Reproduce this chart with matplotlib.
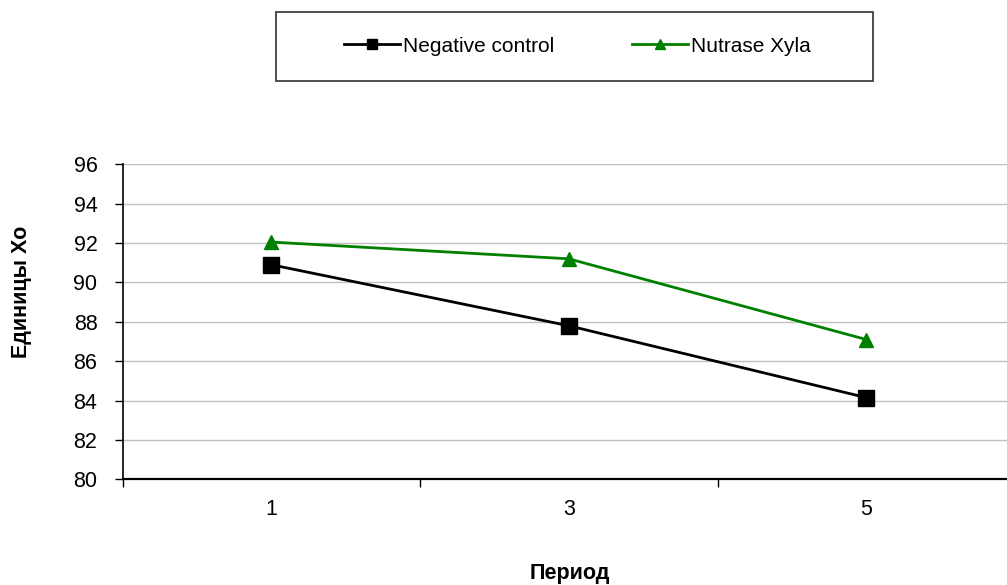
import numpy as np
import matplotlib
matplotlib.use('Agg')
import matplotlib.pyplot as plt
from matplotlib.patches import Rectangle

# Daten
perioden = ['1', '3', '5']
negative_control = [90.9, 87.8, 84.15]
nutrase_xyla = [92.05, 91.2, 87.1]
y_ticks = [80, 82, 84, 86, 88, 90, 92, 94, 96]

plt.rcParams['font.family'] = ['Liberation Sans', 'DejaVu Sans']

W, H = 1007, 585
fig = plt.figure(figsize=(W / 100., H / 100.), dpi=100)
fig.patch.set_facecolor('white')

# Plotbereich (rechts ueber den Bildrand hinaus, wie im Original)
ax = fig.add_axes([122.5 / W, 105.7 / H, (1015 - 122.5) / W, 315. / H])
x = np.arange(len(perioden))

ax.plot(x, negative_control, color='black', linewidth=2, marker='s',
        markersize=11, label='Negative control', clip_on=False, zorder=3)
ax.plot(x, nutrase_xyla, color='#008000', linewidth=2, marker='^',
        markersize=10, label='Nutrase Xyla', clip_on=False, zorder=3)

ax.set_xlim(-0.5, len(perioden) - 0.5)
ax.set_ylim(80, 96)
ax.set_yticks(y_ticks)
ax.set_xticks(x)
ax.set_xticklabels(perioden)
ax.set_xticks(np.arange(-0.5, len(perioden) + 0.5, 1), minor=True)

ax.yaxis.grid(True, color='#c0c0c0', linewidth=1)
ax.set_axisbelow(True)
ax.tick_params(axis='y', direction='out', length=6, width=1, labelsize=15.5, pad=12)
ax.tick_params(axis='x', which='major', length=0, labelsize=15.5, pad=14)
ax.tick_params(axis='x', which='minor', direction='out', length=6, width=1)

for s in ['top', 'right']:
    ax.spines[s].set_visible(False)
ax.spines['left'].set_linewidth(1.2)
ax.spines['bottom'].set_linewidth(1.6)

# Achsenbeschriftungen
fig.text(22 / W, 1 - 292. / H, 'Единицы Хо', rotation=90, ha='center',
         va='center', fontsize=15.5, fontweight='bold')
fig.text(570 / W, 1 - 573. / H, 'Период', ha='center', va='center',
         fontsize=15.5, fontweight='bold')

# Legende mit Rahmen
fig.patches.append(Rectangle((275.7 / W, 1 - 80.7 / H), (872.7 - 275.7) / W,
                             69. / H, transform=fig.transFigure,
                             facecolor='white', edgecolor='#404040',
                             linewidth=1.3, zorder=0))
handles, labels = ax.get_legend_handles_labels()
fig.legend(handles, labels, loc='center', bbox_to_anchor=(577.5 / W, 1 - 46. / H),
           ncol=2, frameon=False, fontsize=15, markerscale=0.65,
           handlelength=2.7, handletextpad=0.15, columnspacing=3.7)

fig.savefig('out.png', dpi=100)
